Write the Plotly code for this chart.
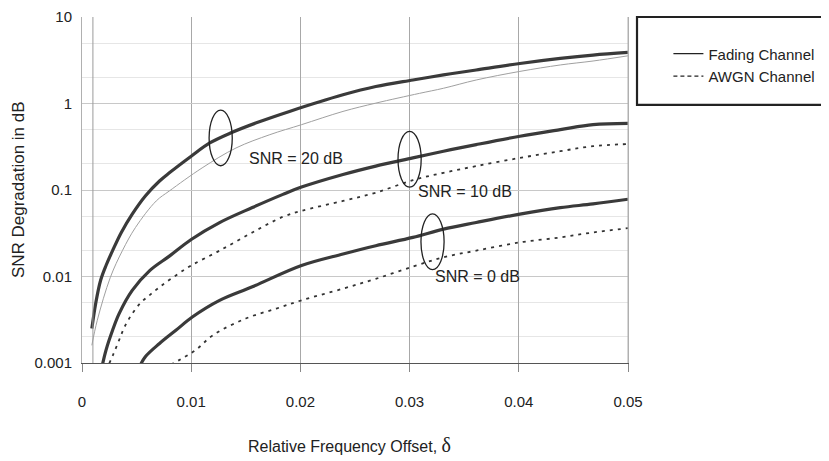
import numpy as np
import plotly.graph_objects as go

# ---- data ----
fad20_x = [0.0009, 0.00125, 0.0017, 0.0022, 0.0028, 0.0036, 0.0046, 0.0058, 0.0071, 0.008, 0.0100, 0.0117,
           0.0136, 0.0159, 0.019, 0.0239, 0.0269, 0.0303, 0.0331, 0.0361, 0.0401, 0.0438, 0.0468, 0.05]
fad20_y = [0.0025, 0.00485, 0.009, 0.0134, 0.0199, 0.0323, 0.0526, 0.0853, 0.127, 0.158, 0.246, 0.35,
           0.456, 0.594, 0.81, 1.26, 1.57, 1.87, 2.14, 2.44, 2.90, 3.32, 3.63, 3.89]

awgn20_x = [0.0009, 0.0014, 0.0026, 0.0037, 0.0049, 0.0068, 0.008, 0.011, 0.0141, 0.0172, 0.0201,
            0.0239, 0.0269, 0.0309, 0.0331, 0.0361, 0.0401, 0.0438, 0.0468, 0.05]
awgn20_y = [0.0016, 0.00312, 0.0098, 0.0199, 0.0369, 0.0748, 0.0975, 0.18, 0.306, 0.436, 0.569,
            0.81, 1.01, 1.31, 1.50, 1.87, 2.35, 2.79, 3.10, 3.56]

fad10_x = [0.0018, 0.0022, 0.0028, 0.0034, 0.0046, 0.0062, 0.008, 0.0100, 0.0126, 0.0156, 0.0184,
           0.0201, 0.0239, 0.0269, 0.0303, 0.0331, 0.0361, 0.0401, 0.0438, 0.0468, 0.05]
fad10_y = [0.00087, 0.00141, 0.00239, 0.00372, 0.0069, 0.0117, 0.0172, 0.0268, 0.042, 0.0627, 0.089,
           0.108, 0.151, 0.189, 0.235, 0.281, 0.335, 0.418, 0.498, 0.569, 0.59]

awgn10_x = [0.0025, 0.0029, 0.0034, 0.0039, 0.0046, 0.0054, 0.0062, 0.0071, 0.0083, 0.0100, 0.0126,
            0.0156, 0.0184, 0.0201, 0.0239, 0.0269, 0.0303, 0.0331, 0.0361, 0.0401, 0.0438, 0.0468, 0.05]
awgn10_y = [0.00099, 0.00129, 0.00184, 0.00262, 0.00372, 0.0050, 0.0061, 0.00753, 0.0097, 0.0134, 0.0199,
            0.0323, 0.049, 0.0574, 0.0748, 0.0931, 0.13, 0.158, 0.189, 0.235, 0.281, 0.321, 0.34]

fad0_x = [0.0052, 0.0058, 0.0071, 0.0086, 0.0101, 0.0126, 0.0156, 0.0201, 0.0239, 0.0269,
          0.0303, 0.0331, 0.0361, 0.0401, 0.0438, 0.0468, 0.05]
fad0_y = [0.00087, 0.00118, 0.00168, 0.00239, 0.0034, 0.0053, 0.0076, 0.0134, 0.0182, 0.0227,
          0.0283, 0.0353, 0.0421, 0.0526, 0.0625, 0.069, 0.0782]

awgn0_x = [0.0075, 0.0089, 0.0104, 0.012, 0.015, 0.0178, 0.0201, 0.0239, 0.0269, 0.0303, 0.0331,
           0.0361, 0.0401, 0.0438, 0.0468, 0.05]
awgn0_y = [0.00087, 0.00108, 0.00141, 0.0021, 0.00327, 0.00426, 0.0053, 0.00723, 0.0094, 0.013, 0.0167,
           0.0199, 0.0248, 0.0283, 0.0323, 0.0362]

x_ticks = [0, 0.01, 0.02, 0.03, 0.04, 0.05]
x_ticktext = ["0", "0.01", "0.02", "0.03", "0.04", "0.05"]
y_ticks = [0.001, 0.01, 0.1, 1, 10]
y_ticktext = ["0.001", "0.01", "0.1", "1", "10"]

labels = ["SNR = 20 dB", "SNR = 10 dB", "SNR = 0 dB"]
label_x = [0.0151, 0.0306, 0.0321]
label_y = [0.23, 0.095, 0.0101]
ell_x = [0.0127, 0.0300, 0.0321]
ell_y = [0.40, 0.227, 0.0252]

X_RANGE = [0, 0.05]
Y_RANGE = [-3, 1]   # log10 decades

# ---- styling ----
FONT = "Liberation Sans, Arial, sans-serif"
FAD = dict(color="#3a3a3a", width=3.2)
AWGN_THIN = dict(color="#a0a0a0", width=1)
AWGN_DOT = dict(color="#333333", width=1.8, dash="3px,5px")

fig = go.Figure()
for xs, ys, ln in [(fad20_x, fad20_y, FAD), (awgn20_x, awgn20_y, AWGN_THIN),
                   (fad10_x, fad10_y, FAD), (awgn10_x, awgn10_y, AWGN_DOT),
                   (fad0_x, fad0_y, FAD), (awgn0_x, awgn0_y, AWGN_DOT)]:
    fig.add_trace(go.Scatter(x=xs, y=ys, mode="lines", line=dict(ln, shape="spline", smoothing=1.0),
                             showlegend=False, hoverinfo="skip"))

# legend entries (thin sample lines as in the reference)
fig.add_trace(go.Scatter(x=[None], y=[None], mode="lines", name="Fading Channel",
                         line=dict(color="#222", width=1.3)))
fig.add_trace(go.Scatter(x=[None], y=[None], mode="lines", name="AWGN Channel",
                         line=dict(color="#222", width=1.3, dash="4px,3px")))

shapes = []
EW = 0.00106 / (X_RANGE[1] - X_RANGE[0])   # half width of label ellipses (plot fraction)
EH = 0.322 / (Y_RANGE[1] - Y_RANGE[0])     # half height of label ellipses (plot fraction)
for ex, ey in zip(ell_x, ell_y):
    px = (ex - X_RANGE[0]) / (X_RANGE[1] - X_RANGE[0])
    py = (float(np.log10(ey)) - Y_RANGE[0]) / (Y_RANGE[1] - Y_RANGE[0])
    shapes.append(dict(type="circle", xref="paper", yref="paper",
                       x0=px - EW, x1=px + EW, y0=py - EH, y1=py + EH,
                       line=dict(color="#222", width=1.3)))
# y axis line at the first data column
shapes.append(dict(type="line", xref="x", yref="paper", x0=0.001, x1=0.001, y0=0, y1=1,
                   line=dict(color="#9a9a9a", width=1)))
# right border
shapes.append(dict(type="line", xref="paper", yref="paper", x0=1, x1=1, y0=0, y1=1,
                   line=dict(color="#b0b0b0", width=1)))
# legend box
shapes.append(dict(type="rect", xref="paper", yref="paper", x0=1.0165, x1=1.5, y0=0.746, y1=1.0,
                   line=dict(color="#222", width=2.2)))
fig.update_layout(shapes=shapes)

for t, lx, ly in zip(labels, label_x, label_y):
    fig.add_annotation(x=lx, y=float(np.log10(ly)), text=t, showarrow=False, xanchor="left",
                       font=dict(family=FONT, size=16, color="#222"))

# axis titles
fig.add_annotation(xref="paper", yref="paper", x=-0.117, y=0.5, text="SNR Degradation in dB",
                   textangle=-90, showarrow=False, xanchor="center", yanchor="middle",
                   font=dict(family=FONT, size=17, color="#222"))
fig.add_annotation(xref="paper", yref="paper", x=0.49, y=-0.236,
                   text='Relative Frequency Offset, <span style="font-family:Liberation Serif, serif;font-size:20px">δ</span>',
                   showarrow=False, xanchor="center", yanchor="middle",
                   font=dict(family=FONT, size=16, color="#222"))

# the page body keeps its default 8px margin, so the figure is sized/offset to fit the 829x461 window
fig.update_layout(
    width=821, height=453,
    margin=dict(l=74, r=201, t=9, b=98),
    paper_bgcolor="white", plot_bgcolor="white",
    font=dict(family=FONT, size=15, color="#222"),
    legend=dict(x=1.074, y=0.941, xanchor="left", yanchor="top", bgcolor="rgba(0,0,0,0)",
                font=dict(family=FONT, size=15, color="#222"), tracegroupgap=0),
    xaxis=dict(range=X_RANGE, tickvals=x_ticks, ticktext=x_ticktext, automargin=False,
               showgrid=True, gridcolor="#a8a8a8", gridwidth=1,
               showline=True, linecolor="#555", linewidth=1.3, mirror=False,
               ticks="outside", ticklen=8, tickcolor="#888", ticklabelstandoff=17,
               ticklabeloverflow="allow",
               zeroline=False, tickfont=dict(family=FONT, size=15)),
    yaxis=dict(type="log", range=Y_RANGE, tickvals=y_ticks, ticktext=y_ticktext, automargin=False,
               showgrid=True, gridcolor="#c8c8c8", gridwidth=1,
               minor=dict(showgrid=True, gridcolor="#e6e6e6",
                          tickvals=[0.002, 0.005, 0.02, 0.05, 0.2, 0.5, 2, 5], ticks="", gridwidth=1),
               showline=True, linecolor="#b0b0b0", linewidth=1, mirror=True,
               ticks="", ticklabelstandoff=6, ticklabeloverflow="allow",
               zeroline=False, tickfont=dict(family=FONT, size=15)),
)

fig.write_html("out.html", config={"displayModeBar": False})
